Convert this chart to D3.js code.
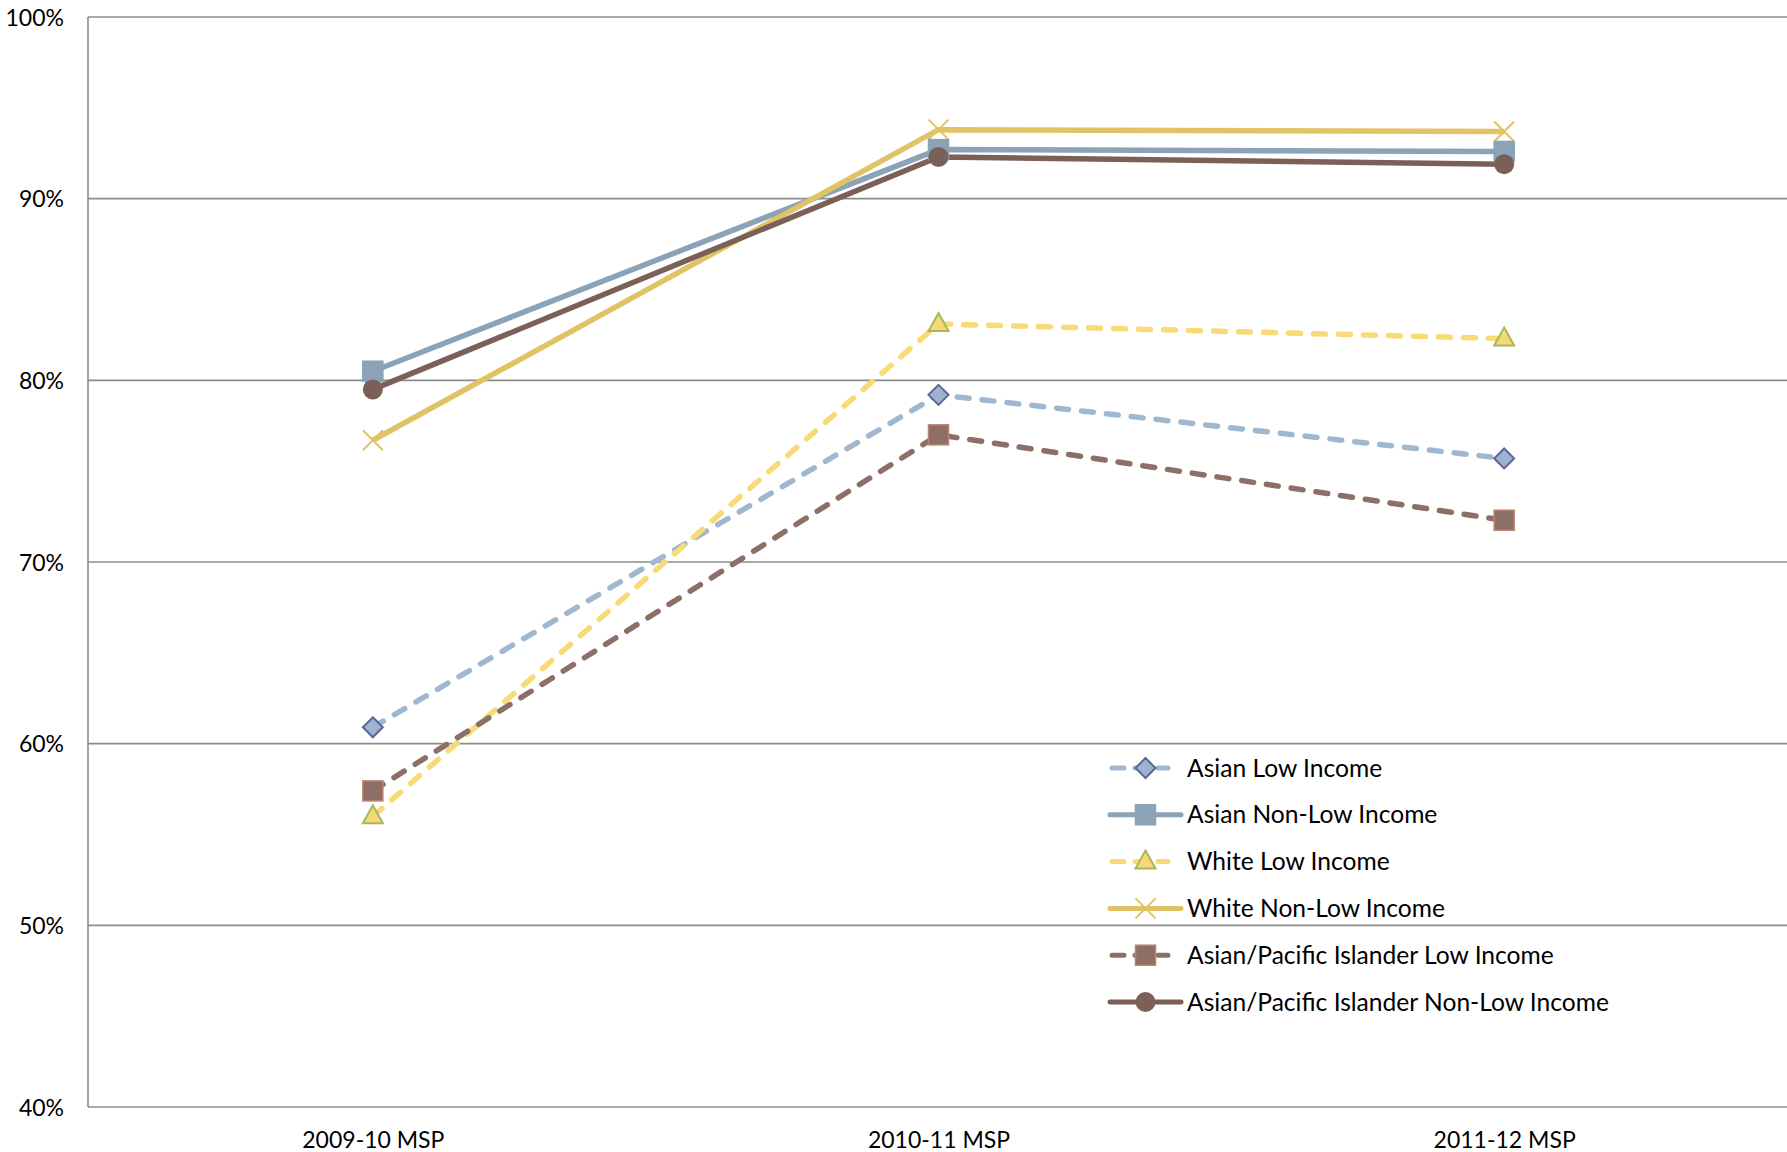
<!DOCTYPE html>
<html><head><meta charset="utf-8">
<script src="https://cdn.jsdelivr.net/npm/d3@7"></script>
<style>body{margin:0;background:#fff}svg text{font-family:Lato,"Open Sans",sans-serif;fill:#000}</style>
</head><body><svg id="c" width="1787" height="1152"></svg>
<script>
const categories = ["2009-10 MSP","2010-11 MSP","2011-12 MSP"];
const seriesNames = ["Asian Low Income","Asian Non-Low Income","White Low Income","White Non-Low Income","Asian/Pacific Islander Low Income","Asian/Pacific Islander Non-Low Income"];
const asianLow = [60.9, 79.2, 75.7];
const asianNonLow = [80.5, 92.7, 92.6];
const whiteLow = [56.0, 83.1, 82.3];
const whiteNonLow = [76.7, 93.8, 93.7];
const apiLow = [57.4, 77.0, 72.3];
const apiNonLow = [79.5, 92.3, 91.9];
const yTicks = [40,50,60,70,80,90,100];

const styles = [
 {line:"#9fb8d0", dash:true, marker:"diamond", fill:"#9db3cf", stroke:"#5b6692"},
 {line:"#8aa3b6", dash:false, marker:"square", fill:"#8aa3b6", stroke:"#8aa3b6"},
 {line:"#f8da76", dash:true, marker:"triangle", fill:"#f6d879", stroke:"#a8b95a"},
 {line:"#e1c366", dash:false, marker:"x", fill:"none", stroke:"#e1c366"},
 {line:"#8c6f66", dash:true, marker:"square", fill:"#8e6f67", stroke:"#b98271"},
 {line:"#7b6058", dash:false, marker:"circle", fill:"#7b6058", stroke:"#7b6058"}
];
const data = [asianLow, asianNonLow, whiteLow, whiteNonLow, apiLow, apiNonLow];

const svg = d3.select("#c");
const L=88, R=1787, T=17, B=1107;
const x = d3.scalePoint().domain(categories).range([L+2,R]).padding(0.5);
const y = d3.scaleLinear().domain([40,100]).range([B,T]);

svg.append("g").selectAll("line").data(yTicks).join("line")
 .attr("x1",L).attr("x2",R).attr("y1",d=>y(d)).attr("y2",d=>y(d))
 .attr("stroke","#8c8c8c").attr("stroke-width",1.6);
svg.append("line").attr("x1",L).attr("x2",L).attr("y1",T).attr("y2",B).attr("stroke","#8c8c8c").attr("stroke-width",1.6);

const yAxis = d3.axisLeft(y).tickValues(yTicks).tickFormat(d=>d+"%").tickSize(0).tickPadding(24);
const gy = svg.append("g").attr("transform",`translate(${L},0)`).call(yAxis);
gy.select(".domain").remove();
gy.selectAll("text").style("font-size","23px").attr("dy","0.35em");

const xAxis = d3.axisBottom(x).tickSize(0).tickPadding(25);
const gx = svg.append("g").attr("transform",`translate(0,${B})`).call(xAxis);
gx.select(".domain").remove();
gx.selectAll("text").style("font-size","23px");

function marker(g, type, s, cx, cy){
  const r=10;
  if(type==="diamond") g.append("path").attr("d",`M${cx},${cy-r}L${cx+r},${cy}L${cx},${cy+r}L${cx-r},${cy}Z`).attr("fill",s.fill).attr("stroke",s.stroke).attr("stroke-width",2);
  else if(type==="square") g.append("rect").attr("x",cx-r).attr("y",cy-r).attr("width",2*r).attr("height",2*r).attr("fill",s.fill).attr("stroke",s.stroke).attr("stroke-width",1.5);
  else if(type==="triangle") g.append("path").attr("d",`M${cx},${cy-11}L${cx+10},${cy+7}L${cx-10},${cy+7}Z`).attr("fill",s.fill).attr("stroke",s.stroke).attr("stroke-width",2);
  else if(type==="circle") g.append("circle").attr("cx",cx).attr("cy",cy).attr("r",r).attr("fill",s.fill);
  else if(type==="x") g.append("path").attr("d",`M${cx-10},${cy-10}L${cx+10},${cy+10}M${cx-10},${cy+10}L${cx+10},${cy-10}`).attr("stroke",s.stroke).attr("stroke-width",2);
}

const line = d3.line().x((d,i)=>x(categories[i])).y(d=>y(d));
const lg = svg.append("g");
data.forEach((vals,k)=>{
  const s=styles[k];
  lg.append("path").attr("d",line(vals)).attr("fill","none").attr("stroke",s.line)
    .attr("stroke-width",5.5).attr("stroke-linecap",s.dash?"round":"butt")
    .attr("stroke-dasharray",s.dash?"12,13":null);
});
const order=[0,2,3,1,4,5];
const mg = svg.append("g");
order.forEach(k=>{
  data[k].forEach((v,i)=>marker(mg, styles[k].marker, styles[k], x(categories[i]), y(v)));
});

const leg = svg.append("g");
const legY0=768, legDy=46.8;
seriesNames.forEach((n,k)=>{
  const s=styles[k], cy=legY0+k*legDy;
  const g=leg.append("g");
  if(s.dash){
    g.append("line").attr("x1",1112).attr("x2",1124).attr("y1",cy).attr("y2",cy).attr("stroke",s.line).attr("stroke-width",5).attr("stroke-linecap","round");
    g.append("line").attr("x1",1135).attr("x2",1168).attr("y1",cy).attr("y2",cy).attr("stroke",s.line).attr("stroke-width",5).attr("stroke-linecap","round").attr("stroke-dasharray","12,11");
  } else {
    g.append("line").attr("x1",1110).attr("x2",1181).attr("y1",cy).attr("y2",cy).attr("stroke",s.line).attr("stroke-width",5).attr("stroke-linecap","round");
  }
  marker(g, s.marker, s, 1145.5, cy);
  g.append("text").attr("x",1187).attr("y",cy).attr("dy","0.35em").style("font-size","24.6px").text(n);
});
</script></body></html>
